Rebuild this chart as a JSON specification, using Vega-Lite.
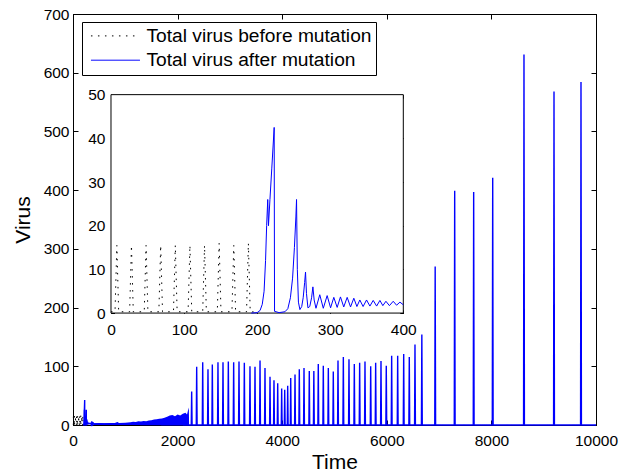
{
  "$schema": "https://vega.github.io/schema/vega-lite/v6.json",
  "width": 523,
  "height": 411,
  "autosize": "none",
  "padding": {"left": 73, "top": 14, "right": 24, "bottom": 48},
  "background": "white",
  "config": {
    "font": "Liberation Sans",
    "view": {"stroke": "black", "strokeWidth": 1},
    "axis": {
      "grid": false, "domainColor": "black", "tickColor": "black", "labelColor": "black",
      "titleColor": "black", "labelFont": "Liberation Sans", "titleFont": "Liberation Sans",
      "labelFontSize": 15.5, "titleFontSize": 21, "titleFontWeight": "normal",
      "labelFlush": false, "labelOverlap": false, "labelBound": false,
      "domainWidth": 1, "tickWidth": 1, "zindex": 1, "format": "d"
    },
    "legend": {
      "strokeColor": "black", "strokeWidth": 1, "fillColor": "white",
      "padding": 4.3, "rowPadding": 4.3,
      "symbolType": "M-5,0H5", "symbolSize": 96, "symbolStrokeWidth": 1,
      "symbolOffset": 19.55, "labelOffset": 21.4,
      "labelFontSize": 19.2, "labelFont": "Liberation Sans", "labelColor": "black", "labelLimit": 0
    }
  },
  "datasets": {
    "before": [
      {"t":0,"v":0.3},{"t":5.5,"v":0.3},{"t":8,"v":15.5},{"t":10.5,"v":0.3},
      {"t":25.5,"v":0.3},{"t":28,"v":15.5},{"t":30.5,"v":0.3},
      {"t":45.5,"v":0.3},{"t":48,"v":15.5},{"t":50.5,"v":0.3},
      {"t":65.5,"v":0.3},{"t":68,"v":15.5},{"t":70.5,"v":0.3},
      {"t":85.5,"v":0.3},{"t":88,"v":15.5},{"t":90.5,"v":0.3},
      {"t":105.5,"v":0.3},{"t":108,"v":15.5},{"t":110.5,"v":0.3},
      {"t":125.5,"v":0.3},{"t":128,"v":15.5},{"t":130.5,"v":0.3},
      {"t":145.5,"v":0.3},{"t":148,"v":16},{"t":150.5,"v":0.3},
      {"t":165.5,"v":0.3},{"t":168,"v":15.5},{"t":170.5,"v":0.3},
      {"t":185.5,"v":0.3},{"t":188,"v":16},{"t":190.5,"v":0.3},{"t":195,"v":0.3}
    ],
    "band": [
      {"t":400,"v":3},{"t":500,"v":3.5},{"t":600,"v":3},{"t":700,"v":3.5},{"t":800,"v":3.5},
      {"t":850,"v":5},{"t":880,"v":3.5},{"t":1000,"v":4},{"t":1100,"v":4.5},{"t":1150,"v":5.5},
      {"t":1200,"v":5},{"t":1250,"v":6.5},{"t":1300,"v":6},{"t":1350,"v":7},{"t":1400,"v":6.5},
      {"t":1450,"v":7.5},{"t":1500,"v":8},{"t":1550,"v":9.5},{"t":1600,"v":10},{"t":1650,"v":10.5},
      {"t":1700,"v":11},{"t":1750,"v":12.5},{"t":1800,"v":14},{"t":1850,"v":16},{"t":1900,"v":17},
      {"t":1950,"v":15},{"t":2000,"v":18},{"t":2050,"v":16},{"t":2100,"v":19},{"t":2150,"v":21},
      {"t":2180,"v":18},{"t":2200,"v":25},{"t":2215,"v":30},{"t":2220,"v":0}
    ],
    "after": [
      {"t":192,"v":0},{"t":200,"v":0.1},{"t":204,"v":0.6},{"t":207,"v":2},{"t":209.5,"v":5},
      {"t":211.5,"v":12},{"t":213,"v":20},{"t":214.5,"v":26},{"t":215.5,"v":20},{"t":217.5,"v":26},
      {"t":220,"v":33},{"t":223.3,"v":42.5},{"t":223.8,"v":0.4},{"t":230,"v":0.1},{"t":238,"v":0.3},
      {"t":242,"v":1},{"t":245.5,"v":3.5},{"t":248.5,"v":8},{"t":251,"v":15},{"t":253,"v":22},
      {"t":253.9,"v":26},{"t":255,"v":10},{"t":256.5,"v":2.5},{"t":258.5,"v":0.8},{"t":261,"v":1.5},
      {"t":263,"v":3.5},{"t":265,"v":7},{"t":266.2,"v":9.4},{"t":267.5,"v":4.5},{"t":269.5,"v":1.2},
      {"t":272,"v":1.5},{"t":274.5,"v":3.5},{"t":276.3,"v":6},{"t":278,"v":3},{"t":280.5,"v":1.1},
      {"t":285.7,"v":4.2},{"t":290.5,"v":1.1},{"t":295.8,"v":4.0},{"t":300.5,"v":1.2},{"t":304.9,"v":3.6},
      {"t":309.5,"v":1.3},{"t":314,"v":3.7},{"t":318.5,"v":1.4},{"t":323.2,"v":3.6},{"t":327.8,"v":1.4},
      {"t":332.3,"v":3.4},{"t":336.5,"v":1.5},{"t":340.5,"v":3.0},{"t":345,"v":1.5},{"t":349.7,"v":3.0},
      {"t":354.3,"v":1.6},{"t":358.8,"v":2.9},{"t":363.5,"v":1.6},{"t":368,"v":2.9},{"t":372,"v":1.7},
      {"t":376.2,"v":2.7},{"t":381,"v":1.7},{"t":386.2,"v":2.7},{"t":390.8,"v":1.8},{"t":395.4,"v":2.5},
      {"t":400,"v":1.9},{"t":2220,"v":0},
      {"t":2261,"v":0},{"t":2269,"v":57},{"t":2277,"v":0},
      {"t":2357,"v":0},{"t":2365,"v":99},{"t":2373,"v":0},
      {"t":2472,"v":0},{"t":2480,"v":107},{"t":2488,"v":0},
      {"t":2573,"v":0},{"t":2581,"v":95},{"t":2589,"v":0},
      {"t":2656,"v":0},{"t":2664,"v":103},{"t":2672,"v":0},
      {"t":2764,"v":0},{"t":2772,"v":107},{"t":2780,"v":0},
      {"t":2860,"v":0},{"t":2868,"v":107},{"t":2876,"v":0},
      {"t":2962,"v":0},{"t":2970,"v":108},{"t":2978,"v":0},
      {"t":3064,"v":0},{"t":3072,"v":107},{"t":3080,"v":0},
      {"t":3166,"v":0},{"t":3174,"v":108},{"t":3182,"v":0},
      {"t":3268,"v":0},{"t":3276,"v":106},{"t":3284,"v":0},
      {"t":3376,"v":0},{"t":3384,"v":100},{"t":3392,"v":0},
      {"t":3472,"v":0},{"t":3480,"v":99},{"t":3488,"v":0},
      {"t":3568,"v":0},{"t":3576,"v":110},{"t":3584,"v":0},
      {"t":3663,"v":0},{"t":3671,"v":97},{"t":3679,"v":0},
      {"t":3759,"v":0},{"t":3767,"v":82},{"t":3775,"v":0},
      {"t":3835,"v":0},{"t":3843,"v":76},{"t":3851,"v":0},
      {"t":3906,"v":0},{"t":3914,"v":71},{"t":3922,"v":0},
      {"t":3982,"v":0},{"t":3990,"v":62},{"t":3998,"v":0},
      {"t":4040,"v":0},{"t":4048,"v":60},{"t":4056,"v":0},
      {"t":4097,"v":0},{"t":4105,"v":67},{"t":4113,"v":0},
      {"t":4155,"v":0},{"t":4163,"v":80},{"t":4171,"v":0},
      {"t":4237,"v":0},{"t":4245,"v":86},{"t":4253,"v":0},
      {"t":4319,"v":0},{"t":4327,"v":95},{"t":4335,"v":0},
      {"t":4409,"v":0},{"t":4417,"v":97},{"t":4425,"v":0},
      {"t":4510,"v":0},{"t":4518,"v":92},{"t":4526,"v":0},
      {"t":4597,"v":0},{"t":4605,"v":92},{"t":4613,"v":0},
      {"t":4682,"v":0},{"t":4690,"v":104},{"t":4698,"v":0},
      {"t":4778,"v":0},{"t":4786,"v":101},{"t":4794,"v":0},
      {"t":4874,"v":0},{"t":4882,"v":97},{"t":4890,"v":0},
      {"t":4969,"v":0},{"t":4977,"v":91},{"t":4985,"v":0},
      {"t":5059,"v":0},{"t":5067,"v":110},{"t":5075,"v":0},
      {"t":5161,"v":0},{"t":5169,"v":116},{"t":5177,"v":0},
      {"t":5269,"v":0},{"t":5277,"v":112},{"t":5285,"v":0},
      {"t":5371,"v":0},{"t":5379,"v":104},{"t":5387,"v":0},
      {"t":5473,"v":0},{"t":5481,"v":106},{"t":5489,"v":0},
      {"t":5575,"v":0},{"t":5583,"v":108},{"t":5591,"v":0},
      {"t":5684,"v":0},{"t":5692,"v":100},{"t":5700,"v":0},
      {"t":5779,"v":0},{"t":5787,"v":106},{"t":5795,"v":0},
      {"t":5881,"v":0},{"t":5889,"v":109},{"t":5897,"v":0},
      {"t":5982,"v":0},{"t":5990,"v":101},{"t":5998,"v":0},
      {"t":6085,"v":0},{"t":6093,"v":118},{"t":6101,"v":0},
      {"t":6200,"v":0},{"t":6208,"v":118},{"t":6216,"v":0},
      {"t":6315,"v":0},{"t":6323,"v":121},{"t":6331,"v":0},
      {"t":6422,"v":0},{"t":6430,"v":116},{"t":6438,"v":0},
      {"t":6531,"v":0},{"t":6539,"v":137},{"t":6547,"v":0},
      {"t":6662,"v":0},{"t":6670,"v":154},{"t":6678,"v":0},
      {"t":6917,"v":0},{"t":6925,"v":270},{"t":6933,"v":0},
      {"t":7290,"v":0},{"t":7298,"v":399},{"t":7306,"v":0},
      {"t":7653,"v":0},{"t":7661,"v":397},{"t":7669,"v":0},
      {"t":8017,"v":0},{"t":8025,"v":421},{"t":8033,"v":0},
      {"t":8615,"v":0},{"t":8623,"v":631},{"t":8631,"v":0},
      {"t":9189,"v":0},{"t":9197,"v":568},{"t":9205,"v":0},
      {"t":9705,"v":0},{"t":9713,"v":584},{"t":9721,"v":0},
      {"t":10000,"v":0}
    ]
  },
  "layer": [
    {
      "layer": [
        {
          "data": {"name": "before"},
          "transform": [{"calculate": "'Total virus before mutation'", "as": "series"}],
          "mark": {"type": "line", "strokeWidth": 1},
          "encoding": {
            "x": {"field": "t", "type": "quantitative",
                  "scale": {"domain": [0, 10000], "nice": false, "zero": false},
                  "axis": {"orient": "bottom", "values": [0,2000,4000,6000,8000,10000], "tickSize": -5, "labelPadding": 13, "title": "Time", "titlePadding": 3}},
            "y": {"field": "v", "type": "quantitative",
                  "scale": {"domain": [0, 700], "nice": false, "zero": false},
                  "axis": {"orient": "left", "values": [0,100,200,300,400,500,600,700], "tickSize": -5, "labelPadding": 9, "title": "Virus", "titlePadding": 10}},
            "color": {"field": "series", "type": "nominal",
                      "scale": {"domain": ["Total virus before mutation", "Total virus after mutation"], "range": ["black", "#0000ff"]},
                      "legend": {"title": null, "orient": "none", "legendX": 9, "legendY": 8}},
            "strokeDash": {"field": "series", "type": "nominal",
                      "scale": {"domain": ["Total virus before mutation", "Total virus after mutation"], "range": [[1.5, 5.5], [1, 0]]},
                      "legend": {"title": null, "orient": "none", "legendX": 9, "legendY": 8}}
          }
        },
        {
          "data": {"name": "band"},
          "mark": {"type": "area", "color": "#0000ff", "opacity": 1},
          "encoding": {
            "x": {"field": "t", "type": "quantitative",
                  "scale": {"domain": [0, 10000], "nice": false, "zero": false},
                  "axis": {"orient": "top", "values": [0,2000,4000,6000,8000,10000], "tickSize": -5, "labels": false, "title": null}},
            "y": {"field": "v", "type": "quantitative",
                  "scale": {"domain": [0, 700], "nice": false, "zero": false},
                  "axis": {"orient": "right", "values": [0,100,200,300,400,500,600,700], "tickSize": -5, "labels": false, "title": null}}
          }
        },
        {
          "data": {"name": "after"},
          "transform": [{"calculate": "'Total virus after mutation'", "as": "series"}],
          "mark": {"type": "line", "strokeWidth": 1.4},
          "encoding": {
            "x": {"field": "t", "type": "quantitative", "scale": {"domain": [0, 10000], "nice": false, "zero": false}, "axis": null},
            "y": {"field": "v", "type": "quantitative", "scale": {"domain": [0, 700], "nice": false, "zero": false}, "axis": null},
            "color": {"field": "series", "type": "nominal",
                      "scale": {"domain": ["Total virus before mutation", "Total virus after mutation"], "range": ["black", "#0000ff"]},
                      "legend": {"title": null, "orient": "none", "legendX": 9, "legendY": 8}},
            "strokeDash": {"field": "series", "type": "nominal",
                      "scale": {"domain": ["Total virus before mutation", "Total virus after mutation"], "range": [[1.5, 5.5], [1, 0]]},
                      "legend": {"title": null, "orient": "none", "legendX": 9, "legendY": 8}}
          }
        }
      ],
      "resolve": {"axis": {"x": "independent", "y": "independent"}}
    },
    {
      "layer": [
        {
          "data": {"values": [{}]},
          "mark": {"type": "rect", "fill": "white", "stroke": "black", "strokeWidth": 1},
          "encoding": {
            "x": {"datum": 0, "type": "quantitative",
                  "scale": {"domain": [-52, 663.7], "nice": false, "zero": false},
                  "axis": {"orient": "top", "offset": -80.7, "values": [0,100,200,300,400], "tickSize": -3.5, "labels": false, "domain": false, "title": null}},
            "x2": {"datum": 400},
            "y": {"datum": 0, "type": "quantitative",
                  "scale": {"domain": [-25.62, 68.46], "nice": false, "zero": false},
                  "axis": {"orient": "right", "offset": -192.7, "values": [0,10,20,30,40,50], "tickSize": -3.5, "labels": false, "domain": false, "title": null}},
            "y2": {"datum": 50}
          }
        },
        {
          "data": {"name": "before"},
          "mark": {"type": "line", "color": "black", "strokeDash": [1.5, 5.5], "strokeWidth": 1},
          "encoding": {
            "x": {"field": "t", "type": "quantitative",
                  "scale": {"domain": [-52, 663.7], "nice": false, "zero": false},
                  "axis": {"orient": "bottom", "offset": -111.7, "values": [0,100,200,300,400], "tickSize": -3.5, "labelPadding": 12.5, "domain": false, "title": null}},
            "y": {"field": "v", "type": "quantitative",
                  "scale": {"domain": [-25.62, 68.46], "nice": false, "zero": false},
                  "axis": {"orient": "left", "offset": -38, "values": [0,10,20,30,40,50], "tickSize": -3.5, "labelPadding": 9.5, "domain": false, "title": null}}
          }
        },
        {
          "data": {"name": "after"},
          "transform": [{"filter": "datum.t <= 400"}],
          "mark": {"type": "line", "color": "#0000ff", "strokeWidth": 1},
          "encoding": {
            "x": {"field": "t", "type": "quantitative", "scale": {"domain": [-52, 663.7], "nice": false, "zero": false}, "axis": null},
            "y": {"field": "v", "type": "quantitative", "scale": {"domain": [-25.62, 68.46], "nice": false, "zero": false}, "axis": null}
          }
        }
      ],
      "resolve": {"axis": {"x": "independent", "y": "independent"}}
    }
  ],
  "resolve": {"scale": {"x": "independent", "y": "independent"}}
}
